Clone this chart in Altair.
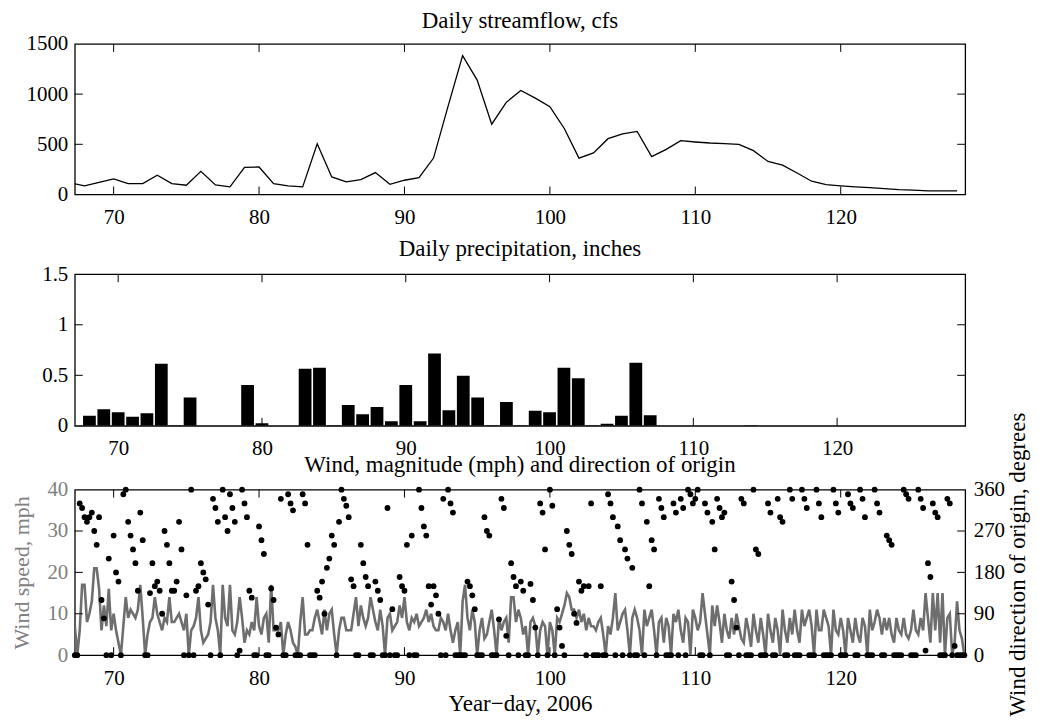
import altair as alt
import pandas as pd

FONT = "Liberation Serif"
FS = 21        # tick labels
FT = 23        # titles
GRAY_LINE = "#6e6e6e"
GRAY_TEXT = "#808080"
W = 893
H_TOP, H_MID, H_BOT = 151, 152, 166
TL = 8
X_DOMAIN = [67.33, 128.56]
X_TICKS = [70, 80, 90, 100, 110, 120]

# ---- Daily streamflow, cfs (days 67..128)
flow_day = list(range(67, 129))
flow_cfs = [116, 86, 120, 155, 109, 109, 192, 109, 92, 231, 96, 76, 271, 274,
            109, 86, 76, 505, 175, 126, 149, 218, 102, 142, 168, 363, 880, 1384,
            1140, 700, 918, 1036, 960, 875, 655, 362, 414, 556, 605, 628, 378,
            450, 536, 523, 513, 507, 500, 437, 329, 293, 214, 132, 99, 86, 76,
            69, 59, 49, 43, 36, 36, 36]

# ---- Daily precipitation, inches (days 68..128)
precip_day = list(range(68, 129))
precip_in = [0.10, 0.165, 0.135, 0.09, 0.125, 0.615, 0.005, 0.28, 0, 0, 0,
             0.405, 0.025, 0, 0, 0.565, 0.575, 0.005, 0.205, 0.115, 0.185,
             0.045, 0.405, 0.045, 0.715, 0.155, 0.495, 0.28, 0.005, 0.235,
             0.005, 0.15, 0.135, 0.575, 0.47, 0.005, 0.02, 0.10, 0.625, 0.105,
             0, 0, 0, 0, 0, 0, 0.005, 0, 0, 0, 0, 0, 0, 0, 0, 0, 0, 0, 0, 0, 0]

# ---- Wind, 4-hourly samples starting at day 67 + 8 h
WIND_START = 67 + 8 / 24
WIND_STEP = 1 / 6
wind_mph = [
    7, 0, 6, 17,
    17, 8, 10, 13, 21, 21,
    16, 6, 12, 7, 16, 6,
    10, 6, 3, 0, 7, 14,
    9, 11, 10, 9, 11, 17,
    9, 0, 5, 8, 9, 14,
    10, 8, 6, 9, 8, 14,
    8, 8, 9, 10, 8, 6,
    10, 0, 6, 7, 9, 14,
    6, 3, 4, 5, 8, 17,
    9, 6, 0, 17, 9, 7,
    17, 6, 5, 8, 14, 9,
    3, 6, 5, 8, 6, 14,
    7, 5, 9, 10, 3, 17,
    6, 6, 6, 8, 0, 5,
    8, 6, 3, 2, 0, 8,
    14, 5, 5, 6, 6, 9,
    11, 8, 5, 11, 6, 10,
    11, 5, 0, 6, 9, 9,
    6, 6, 6, 10, 14, 7,
    12, 9, 7, 9, 14, 11,
    8, 6, 11, 7, 0, 9,
    10, 6, 7, 8, 12, 9,
    14, 8, 6, 9, 8, 10,
    7, 8, 9, 11, 8, 10,
    7, 6, 6, 9, 8, 6,
    10, 6, 3, 6, 8, 0,
    13, 17, 9, 6, 11, 8,
    0, 6, 9, 4, 5, 8,
    11, 6, 0, 9, 6, 8,
    9, 3, 14, 14, 8, 11,
    9, 5, 7, 0, 8, 9,
    7, 0, 6, 8, 7, 0,
    8, 6, 0, 9, 8, 10,
    12, 15, 14, 11, 11, 9,
    11, 8, 10, 6, 9, 7,
    7, 6, 8, 9, 5, 0,
    7, 5, 9, 15, 6, 8,
    10, 11, 6, 0, 9, 11,
    9, 6, 0, 11, 7, 9,
    11, 6, 0, 8, 9, 3,
    9, 7, 0, 10, 8, 11,
    6, 3, 9, 8, 0, 11,
    9, 6, 8, 15, 10, 5,
    0, 12, 7, 12, 8, 3,
    10, 6, 4, 9, 5, 10,
    7, 4, 3, 9, 6, 2,
    10, 6, 3, 9, 5, 0,
    10, 6, 3, 9, 6, 0,
    11, 6, 3, 9, 5, 11,
    6, 3, 11, 7, 9, 11,
    7, 0, 11, 6, 6, 11,
    9, 7, 0, 11, 6, 5,
    9, 6, 0, 9, 6, 3,
    9, 5, 3, 9, 7, 0,
    11, 6, 8, 11, 9, 5,
    9, 6, 9, 5, 3, 9,
    6, 5, 9, 5, 4, 6,
    11, 6, 5, 9, 6, 15,
    9, 3, 15, 6, 15, 3,
    15, 0, 9, 10, 0, 3,
    13, 6, 4, 0,
]
wind_dir = [
    0, 0, 330, 320,
    300, 290, 300, 310, 270, 240,
    300, 120, 80, 0, 210, 0,
    260, 180, 160, 0, 350, 360,
    290, 260, 230, 200, 140, 310,
    250, 0, 0, 135, 200, 150,
    160, 140, 90, 270, 240, 200,
    140, 140, 160, 290, 230, 0,
    130, 0, 360, 0, 140, 150,
    200, 180, 165, 110, 0, 340,
    320, 290, 0, 360, 300, 270,
    350, 320, 290, 0, 10, 360,
    330, 300, 140, 125, 0, 0,
    280, 250, 220, 0, 0, 145,
    120, 60, 45, 340, 0, 0,
    350, 330, 315, 0, 0, 0,
    350, 330, 240, 0, 0, 0,
    140, 125, 160, 90, 190, 210,
    260, 240, 0, 290, 360, 340,
    325, 300, 165, 150, 0, 0,
    240, 200, 170, 150, 0, 0,
    160, 140, 120, 0, 0, 320,
    0, 100, 0, 0, 170, 150,
    140, 240, 0, 260, 0, 0,
    360, 320, 280, 260, 150, 110,
    150, 130, 90, 0, 340, 0,
    360, 330, 310, 0, 0, 0,
    0, 0, 160, 150, 130, 100,
    0, 0, 0, 300, 270, 260,
    0, 0, 0, 78, 340, 320,
    42, 0, 200, 170, 150, 0,
    160, 140, 0, 0, 155, 120,
    60, 0, 330, 310, 230, 0,
    360, 325, 0, 100, 60, 20,
    0, 270, 240, 220, 90, 70,
    160, 140, 150, 0, 150, 330,
    0, 0, 0, 150, 0, 0,
    350, 330, 300, 0, 280, 250,
    0, 230, 210, 0, 190, 0,
    0, 360, 330, 0, 290, 150,
    250, 230, 0, 340, 320, 300,
    0, 0, 0, 330, 310, 0,
    340, 320, 0, 360, 350, 330,
    340, 360, 0, 0, 330, 310,
    0, 290, 230, 340, 320, 300,
    310, 0, 0, 160, 120, 60,
    0, 340, 330, 0, 0, 0,
    360, 230, 220, 0, 0, 0,
    330, 310, 0, 0, 340, 300,
    290, 0, 0, 360, 340, 0,
    0, 0, 360, 340, 320, 0,
    0, 0, 360, 330, 300, 0,
    0, 0, 0, 360, 330, 310,
    0, 0, 0, 350, 330, 320,
    0, 0, 360, 340, 300, 0,
    0, 0, 360, 330, 310, 0,
    0, 260, 250, 240, 0, 0,
    0, 0, 360, 350, 340, 0,
    0, 0, 360, 340, 320, 10,
    200, 170, 330, 310, 300, 0,
    0, 0, 340, 330, 0, 20,
    0, 0, 0, 0,
]

n = min(len(wind_mph), len(wind_dir))
wind_t = [WIND_START + i * WIND_STEP for i in range(n)]

xscale = alt.Scale(domain=X_DOMAIN, nice=False, zero=False)


def x_ticks(h, axis):
    d = alt.Chart(pd.DataFrame({"tv": X_TICKS}))
    enc = alt.X("tv:Q", scale=xscale, axis=axis)
    top = d.mark_rule(color="black", strokeWidth=1).encode(x=enc, y=alt.value(0), y2=alt.value(TL))
    bot = d.mark_rule(color="black", strokeWidth=1).encode(x=enc, y=alt.value(h), y2=alt.value(h - TL))
    return [top, bot]


def y_ticks(values, domain, axis, left=True, right=True):
    d = alt.Chart(pd.DataFrame({"yv": values}))
    enc = alt.Y("yv:Q", scale=alt.Scale(domain=domain, nice=False), axis=axis)
    out = []
    if left:
        out.append(d.mark_rule(color="black", strokeWidth=1).encode(y=enc, x=alt.value(0), x2=alt.value(TL)))
    if right:
        out.append(d.mark_rule(color="black", strokeWidth=1).encode(y=enc, x=alt.value(W), x2=alt.value(W - TL)))
    return out


XLP = 12  # x label padding
YLP = 7   # y label padding
TOFF = 2  # panel title offset

# ---- top panel
flow_df = pd.DataFrame({"day": flow_day, "cfs": flow_cfs})
x_axis_t = alt.Axis(values=X_TICKS, labelPadding=XLP, title=".", titleOpacity=0,
                    titleFontSize=10, titlePadding=6)
y_axis_t = alt.Axis(values=[0, 500, 1000, 1500], format="d", title=None, labelPadding=YLP)
flow_line = alt.Chart(flow_df).mark_line(color="black", strokeWidth=1.3, clip=True).encode(
    x=alt.X("day:Q", scale=xscale, axis=x_axis_t),
    y=alt.Y("cfs:Q", scale=alt.Scale(domain=[0, 1500], nice=False), axis=y_axis_t),
)
top = alt.layer(flow_line, *x_ticks(H_TOP, x_axis_t),
                *y_ticks([500, 1000], [0, 1500], y_axis_t)).properties(
    width=W, height=H_TOP,
    title=alt.TitleParams("Daily streamflow, cfs", offset=0, frame="group"),
)

# ---- middle panel
precip_df = pd.DataFrame({"day": precip_day, "inch": precip_in})
x_axis_m = alt.Axis(values=X_TICKS, title=None, labelPadding=XLP)
y_axis_m = alt.Axis(values=[0, 0.5, 1, 1.5], format="~g", title=None, labelPadding=YLP)
bars = alt.Chart(precip_df).mark_bar(color="black", size=12.8, clip=True).encode(
    x=alt.X("day:Q", scale=xscale, axis=x_axis_m),
    y=alt.Y("inch:Q", scale=alt.Scale(domain=[0, 1.5], nice=False), axis=y_axis_m),
)
mid = alt.layer(bars, *x_ticks(H_MID, x_axis_m),
                *y_ticks([0.5, 1], [0, 1.5], y_axis_m)).properties(
    width=W, height=H_MID,
    title=alt.TitleParams("Daily precipitation, inches", offset=TOFF, frame="group"),
)

# ---- bottom panel
wind_df = pd.DataFrame({"t": wind_t, "mph": wind_mph[:n], "deg": wind_dir[:n]})
x_axis_b = alt.Axis(values=X_TICKS, title="Year\u2212day, 2006", titlePadding=5, labelPadding=XLP)
wline = alt.Chart(wind_df).mark_line(color=GRAY_LINE, strokeWidth=2.6, clip=True).encode(
    x=alt.X("t:Q", scale=xscale, axis=x_axis_b),
    y=alt.Y("mph:Q", scale=alt.Scale(domain=[0, 40], nice=False),
            axis=alt.Axis(values=[0, 10, 20, 30, 40], orient="left", title="Wind speed, mph",
                          labelColor=GRAY_TEXT, titleColor=GRAY_TEXT, titlePadding=13,
                          titleFontSize=22, labelPadding=YLP)),
)
wpts = alt.Chart(wind_df).mark_circle(color="black", size=34, opacity=1).encode(
    x=alt.X("t:Q", scale=xscale, axis=x_axis_b),
    y=alt.Y("deg:Q", scale=alt.Scale(domain=[0, 360], nice=False),
            axis=alt.Axis(values=[0, 90, 180, 270, 360], orient="right", title=None,
                          labelPadding=8)),
)
bottom = alt.layer(
    wline, wpts, *x_ticks(H_BOT, x_axis_b),
    *y_ticks([10, 20, 30], [0, 40], None, right=False),
    *y_ticks([90, 180, 270], [0, 360], None, left=False),
).resolve_scale(y="independent").properties(
    width=W, height=H_BOT,
    title=alt.TitleParams("Wind, magnitude (mph) and direction of origin", offset=TOFF, frame="group"),
)

chart = alt.vconcat(top, mid, bottom, spacing=-7).properties(
    padding={"left": 2, "top": 0, "right": 0, "bottom": 0},
    title=alt.TitleParams("Wind direction of origin, degrees", orient="right", anchor="end",
                          align="left", baseline="bottom", angle=270, dx=0, offset=2,
                          fontSize=FT, font=FONT, fontWeight="normal"),
).configure_view(
    stroke="black", strokeWidth=1.3
).configure_axis(
    grid=False, domain=False, ticks=False,
    labelFont=FONT, labelFontSize=FS, labelColor="black",
    titleFont=FONT, titleFontSize=FT, titleFontWeight="normal", titleColor="black",
).configure_title(
    font=FONT, fontSize=FT, fontWeight="normal", color="black", anchor="middle"
)

chart.save("out.html", embed_options={"renderer": "svg", "actions": False})
